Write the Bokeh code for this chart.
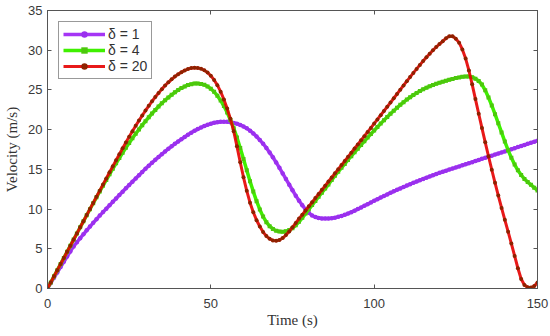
from bokeh.plotting import figure
from bokeh.models import LinearAxis, FixedTicker, Legend, LegendItem, Range1d, ColumnDataSource
from bokeh.embed import file_html
from bokeh.resources import INLINE

# time samples (s)
time = list(range(0, 151))

# delta = 1
v_d1 = [0.00, 0.68, 1.36, 2.03, 2.70, 3.36, 4.02, 4.67, 5.30, 5.82,
        6.33, 6.83, 7.32, 7.80, 8.27, 8.73, 9.18, 9.62, 10.05, 10.48,
        10.91, 11.34, 11.77, 12.19, 12.61, 13.03, 13.45, 13.86, 14.27, 14.68,
        15.08, 15.46, 15.83, 16.20, 16.56, 16.91, 17.25, 17.58, 17.90, 18.21,
        18.51, 18.80, 19.08, 19.35, 19.61, 19.85, 20.07, 20.27, 20.45, 20.61,
        20.75, 20.86, 20.94, 20.99, 21.00, 20.98, 20.93, 20.85, 20.74, 20.59,
        20.40, 20.16, 19.87, 19.53, 19.14, 18.70, 18.22, 17.70, 17.13, 16.52,
        15.87, 15.19, 14.49, 13.78, 13.07, 12.37, 11.69, 11.05, 10.47, 9.96,
        9.53, 9.19, 9.00, 8.88, 8.82, 8.80, 8.81, 8.85, 8.92, 9.02,
        9.14, 9.28, 9.44, 9.61, 9.80, 10.00, 10.20, 10.41, 10.62, 10.83,
        11.04, 11.25, 11.45, 11.65, 11.85, 12.04, 12.23, 12.42, 12.60, 12.78,
        12.96, 13.13, 13.30, 13.47, 13.63, 13.79, 13.95, 14.11, 14.26, 14.41,
        14.56, 14.70, 14.83, 14.97, 15.10, 15.24, 15.37, 15.51, 15.64, 15.78,
        15.91, 16.05, 16.18, 16.32, 16.45, 16.59, 16.72, 16.86, 16.99, 17.13,
        17.26, 17.40, 17.53, 17.67, 17.80, 17.94, 18.07, 18.21, 18.34, 18.48,
        18.61]

# delta = 4
v_d4 = [0.00, 0.77, 1.54, 2.31, 3.08, 3.85, 4.62, 5.39, 6.16, 6.93,
        7.70, 8.46, 9.22, 9.98, 10.73, 11.48, 12.22, 12.95, 13.67, 14.38,
        15.08, 15.76, 16.43, 17.08, 17.71, 18.32, 18.91, 19.48, 20.03, 20.56,
        21.07, 21.56, 22.03, 22.48, 22.91, 23.32, 23.70, 24.06, 24.39, 24.70,
        24.98, 25.23, 25.44, 25.61, 25.73, 25.80, 25.81, 25.76, 25.64, 25.44,
        25.15, 24.77, 24.28, 23.68, 22.97, 22.15, 21.22, 20.19, 19.00, 17.70,
        16.30, 14.90, 13.50, 12.20, 11.00, 9.95, 9.05, 8.35, 7.85, 7.50,
        7.28, 7.17, 7.14, 7.20, 7.35, 7.60, 7.95, 8.40, 8.90, 9.43,
        9.97, 10.50, 11.03, 11.55, 12.07, 12.58, 13.09, 13.65, 14.20, 14.70,
        15.20, 15.69, 16.18, 16.66, 17.14, 17.61, 18.08, 18.54, 19.00, 19.45,
        19.89, 20.33, 20.76, 21.18, 21.59, 21.99, 22.38, 22.76, 23.12, 23.46,
        23.78, 24.08, 24.36, 24.62, 24.86, 25.08, 25.28, 25.46, 25.62, 25.77,
        25.91, 26.04, 26.16, 26.28, 26.39, 26.49, 26.58, 26.65, 26.69, 26.68,
        26.60, 26.42, 26.12, 25.68, 24.95, 24.05, 23.05, 21.95, 20.80, 19.65,
        18.50, 17.42, 16.45, 15.60, 14.88, 14.28, 13.80, 13.40, 13.05, 12.70,
        12.35]

# delta = 20
v_d20 = [0.00, 0.77, 1.54, 2.31, 3.08, 3.85, 4.62, 5.39, 6.16, 6.93,
         7.70, 8.47, 9.24, 10.01, 10.78, 11.55, 12.32, 13.09, 13.86, 14.63,
         15.40, 16.16, 16.91, 17.65, 18.38, 19.10, 19.80, 20.48, 21.14, 21.78,
         22.40, 23.00, 23.57, 24.11, 24.62, 25.10, 25.55, 25.96, 26.34, 26.68,
         26.98, 27.24, 27.46, 27.63, 27.75, 27.80, 27.77, 27.68, 27.48, 27.18,
         26.78, 26.26, 25.60, 24.78, 23.80, 22.66, 21.36, 19.80, 17.90, 15.90,
         14.00, 12.30, 10.80, 9.60, 8.60, 7.80, 7.10, 6.60, 6.25, 6.05,
         6.00, 6.10, 6.35, 6.72, 7.18, 7.70, 8.25, 8.80, 9.30, 9.82,
         10.34, 10.86, 11.38, 11.90, 12.42, 12.94, 13.46, 13.98, 14.50, 15.02,
         15.54, 16.06, 16.58, 17.10, 17.62, 18.14, 18.66, 19.18, 19.70, 20.22,
         20.76, 21.29, 21.82, 22.35, 22.88, 23.41, 23.95, 24.49, 25.03, 25.57,
         26.10, 26.62, 27.14, 27.65, 28.15, 28.64, 29.11, 29.56, 29.99, 30.40,
         30.78, 31.13, 31.50, 31.75, 31.75, 31.45, 30.95, 30.10, 28.95, 27.45,
         25.70, 23.85, 22.00, 20.20, 18.40, 16.65, 14.95, 13.30, 11.70, 10.15,
         8.65, 7.15, 5.65, 4.10, 2.55, 1.20, 0.45, 0.15, 0.12, 0.30,
         0.75]

labels = ["\u03b4 = 1", "\u03b4 = 4", "\u03b4 = 20"]
x_ticks = [0, 50, 100, 150]
y_ticks = [0, 5, 10, 15, 20, 25, 30, 35]

AX = "#555555"

p = figure(width=550, height=336, output_backend="svg", toolbar_location=None,
           x_range=Range1d(0, 150), y_range=Range1d(0, 35),
           min_border_left=47, min_border_right=13, min_border_top=10, min_border_bottom=48,
           background_fill_color="white", border_fill_color="white")
p.grid.visible = False
p.outline_line_color = AX
p.outline_line_width = 1

for ax in [p.xaxis[0], p.yaxis[0]]:
    ax.axis_line_color = AX
    ax.major_tick_line_color = AX
    ax.major_tick_in = 4
    ax.major_tick_out = 0
    ax.minor_tick_line_color = None
    ax.major_label_text_font = "Liberation Sans"
    ax.major_label_text_font_size = "13px"
    ax.major_label_text_color = "#3a3a3a"
    ax.axis_label_text_font = "Liberation Serif"
    ax.axis_label_text_font_size = "15px"
    ax.axis_label_text_font_style = "normal"
    ax.axis_label_text_color = "#333333"

p.xaxis[0].ticker = FixedTicker(ticks=x_ticks)
p.yaxis[0].ticker = FixedTicker(ticks=y_ticks)
p.xaxis[0].axis_label = "Time (s)"
p.yaxis[0].axis_label = "Velocity (m/s)"
p.xaxis[0].major_label_standoff = 10
p.xaxis[0].axis_label_standoff = 1
p.yaxis[0].major_label_standoff = 5
p.yaxis[0].axis_label_standoff = 5

# top and right axes: inward ticks only
for side, ticks in (("above", x_ticks), ("right", y_ticks)):
    ax = LinearAxis(ticker=FixedTicker(ticks=ticks),
                    major_label_overrides={t: "" for t in ticks},
                    major_label_text_font_size="1px", major_label_standoff=0,
                    axis_label_standoff=0,
                    major_tick_in=4, major_tick_out=0, minor_tick_line_color=None,
                    axis_line_color=AX, major_tick_line_color=AX)
    p.add_layout(ax, side)

src = ColumnDataSource(dict(t=time, a=v_d1, b=v_d4, c=v_d20))

# delta = 1
l1 = p.line("t", "a", source=src, line_color="#a535f5", line_width=3.5)
m1 = p.scatter("t", "a", source=src, marker="circle", size=4.5,
               fill_color="#9a30ee", line_color=None)
# delta = 4
l2 = p.line("t", "b", source=src, line_color="#3ff000", line_width=3.5)
m2 = p.scatter("t", "b", source=src, marker="square", size=4,
               fill_color="#4cc80c", line_color=None)
# delta = 20
l3 = p.line("t", "c", source=src, line_color="#e60000", line_width=3, line_alpha=0.9)
m3 = p.scatter("t", "c", source=src, marker="circle", size=4,
               fill_color="#8e2200", line_color=None)

legend = Legend(items=[LegendItem(label=labels[0], renderers=[l1, m1]),
                       LegendItem(label=labels[1], renderers=[l2, m2]),
                       LegendItem(label=labels[2], renderers=[l3, m3])],
                location="top_left", margin=11,
                border_line_color="#333333", border_line_width=1,
                background_fill_color="white", background_fill_alpha=1,
                label_text_font="Liberation Sans", label_text_font_size="14px",
                label_text_color="#333333", glyph_width=42, glyph_height=16,
                label_height=16, spacing=0, padding=4, label_standoff=3)
p.add_layout(legend, "center")

open("out.html", "w").write(file_html(p, INLINE))
